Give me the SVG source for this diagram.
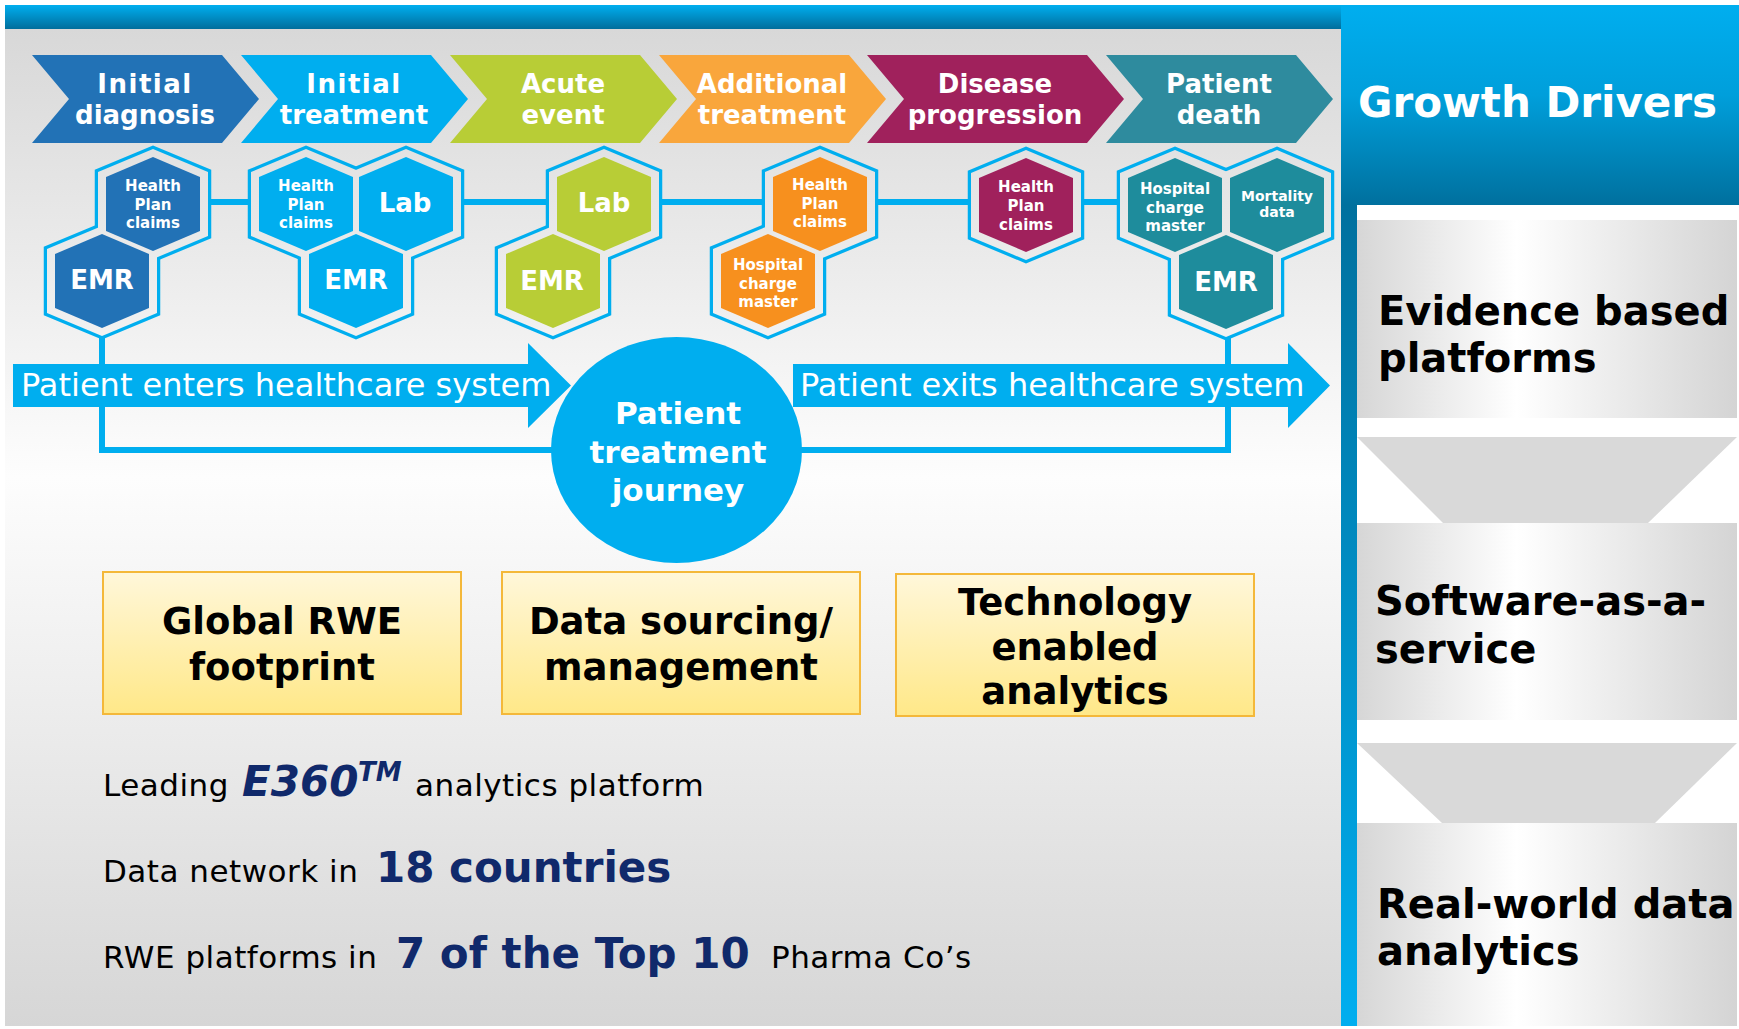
<svg xmlns="http://www.w3.org/2000/svg" width="1739" height="1029" viewBox="0 0 1739 1029">
<defs>
<linearGradient id="bg" gradientUnits="userSpaceOnUse" x1="0" y1="29" x2="0" y2="1026">
<stop offset="0" stop-color="#d8d8d8"/><stop offset="0.45" stop-color="#fdfdfd"/><stop offset="1" stop-color="#d6d6d6"/>
</linearGradient>
<linearGradient id="topbar" x1="0" y1="0" x2="0" y2="1">
<stop offset="0" stop-color="#00aeef"/><stop offset="1" stop-color="#006e9c"/>
</linearGradient>
<linearGradient id="header" x1="0" y1="0" x2="0" y2="1">
<stop offset="0" stop-color="#00aeef"/><stop offset="0.45" stop-color="#009fdb"/><stop offset="1" stop-color="#00709e"/>
</linearGradient>
<linearGradient id="stripe" x1="0" y1="0" x2="0" y2="1">
<stop offset="0" stop-color="#00709e"/><stop offset="1" stop-color="#00aeef"/>
</linearGradient>
<linearGradient id="grey" x1="0" y1="0" x2="1" y2="0">
<stop offset="0" stop-color="#d6d6d6"/><stop offset="0.42" stop-color="#ffffff"/><stop offset="1" stop-color="#d4d4d4"/>
</linearGradient>
<linearGradient id="yellow" x1="0" y1="0" x2="0" y2="1">
<stop offset="0" stop-color="#fff7da"/><stop offset="1" stop-color="#ffe888"/>
</linearGradient>
</defs>
<style>
text{font-family:"DejaVu Sans",Verdana,"Liberation Sans",sans-serif}
.chev text{fill:#fff;font-weight:bold;font-size:26px;text-anchor:middle}
.ring{fill:none;stroke:#00aeef;stroke-width:6.5}
.gap{fill:url(#bg)}
.hl{fill:#fff;font-weight:bold;text-anchor:middle}
.sm{font-size:15px}
.big{font-size:26px}
.conn{fill:none;stroke:#00aeef;stroke-width:6}
.arrow{fill:#00aeef}
.arrow text{fill:#fff;font-size:32px}
.ybox rect{fill:url(#yellow);stroke:#f4b83a;stroke-width:2}
.ybox text{fill:#000;font-weight:bold;font-size:37px;text-anchor:middle}
.gbox{fill:url(#grey)}
.gtxt{fill:#000;font-weight:bold;font-size:40px}
.trap{fill:#d9d9d9}
.stat{font-size:31px;fill:#000;letter-spacing:0.5px}
.navy{fill:#10296b;font-weight:bold;font-size:42px}
</style>

<rect x="0" y="0" width="1739" height="1029" fill="#ffffff"/>
<rect x="5" y="29" width="1336" height="997" fill="url(#bg)"/>
<rect x="5" y="5" width="1336" height="24" fill="url(#topbar)"/>

<g id="growth-drivers">
<rect x="1341" y="5" width="398" height="200" fill="url(#header)"/>
<rect x="1341" y="205" width="16" height="821" fill="url(#stripe)"/>
<text x="1358" y="117" fill="#fff" font-weight="bold" font-size="42">Growth Drivers</text>
</g>
<g id="driver-evidence">
<rect class="gbox" x="1357" y="220" width="380" height="198"/>
<text class="gtxt" x="1378" y="325" font-size="39">Evidence based</text>
<text class="gtxt" x="1378" y="372" font-size="39">platforms</text>
</g>
<polygon class="trap" points="1357,437 1737,437 1648,523 1443,523"/>
<g id="driver-saas">
<rect class="gbox" x="1357" y="523" width="380" height="197"/>
<text class="gtxt" x="1375" y="615">Software-as-a-</text>
<text class="gtxt" x="1375" y="663">service</text>
</g>
<polygon class="trap" points="1357,743 1737,743 1655,823 1442,823"/>
<g id="driver-rwd">
<rect class="gbox" x="1357" y="823" width="380" height="203"/>
<text class="gtxt" x="1377" y="918">Real-world data</text>
<text class="gtxt" x="1377" y="965">analytics</text>
</g>

<g id="stages" class="chev">
<g id="stage-initial-diagnosis"><polygon fill="#2272b6" points="32,55 222,55 259,99 222,143 32,143 69,99"/><text x="145" y="93" letter-spacing="1.5">Initial</text><text x="145" y="124">diagnosis</text></g>
<g id="stage-initial-treatment"><polygon fill="#00aeef" points="241,55 431,55 468,99 431,143 241,143 278,99"/><text x="354" y="93" letter-spacing="1.5">Initial</text><text x="354" y="124">treatment</text></g>
<g id="stage-acute-event"><polygon fill="#b8cd36" points="450,55 640,55 677,99 640,143 450,143 487,99"/><text x="563" y="93">Acute</text><text x="563" y="124">event</text></g>
<g id="stage-additional-treatment"><polygon fill="#f9a63c" points="659,55 849,55 886,99 849,143 659,143 696,99"/><text x="772" y="93">Additional</text><text x="772" y="124">treatment</text></g>
<g id="stage-disease-progression"><polygon fill="#a0215c" points="867,55 1087,55 1124,99 1087,143 867,143 904,99"/><text x="995" y="93">Disease</text><text x="995" y="124">progression</text></g>
<g id="stage-patient-death"><polygon fill="#2e8b9e" points="1106,55 1296,55 1333,99 1296,143 1106,143 1143,99"/><text x="1219" y="93">Patient</text><text x="1219" y="124">death</text></g>
</g>

<g id="connectors">
<line class="conn" x1="200" y1="202" x2="1130" y2="202"/>
<path class="conn" d="M102,334 V450 H1228 V335"/>
</g>

<g id="cluster-1">
<polygon class="ring" points="153,149 208,172 208,236 153,259 98,236 98,172"/>
<polygon class="ring" points="102,226 157,249 157,313 102,336 47,313 47,249"/>
<polygon class="gap" points="153,149 208,172 208,236 153,259 98,236 98,172"/>
<polygon class="gap" points="102,226 157,249 157,313 102,336 47,313 47,249"/>
<polygon fill="#2272b6" points="153,157 200,177 200,231 153,251 106,231 106,177"/>
<polygon fill="#2272b6" points="102,234 149,254 149,308 102,328 55,308 55,254"/>
<text class="hl sm" x="153"><tspan x="153" y="191">Health</tspan><tspan x="153" y="209.5">Plan</tspan><tspan x="153" y="228">claims</tspan></text>
<text class="hl big" x="102" y="289">EMR</text>
</g>

<g id="cluster-2">
<polygon class="ring" points="306,149 361,172 361,236 306,259 251,236 251,172"/>
<polygon class="ring" points="406,149 461,172 461,236 406,259 351,236 351,172"/>
<polygon class="ring" points="356,226 411,249 411,313 356,336 301,313 301,249"/>
<polygon class="gap" points="306,149 361,172 361,236 306,259 251,236 251,172"/>
<polygon class="gap" points="406,149 461,172 461,236 406,259 351,236 351,172"/>
<polygon class="gap" points="356,226 411,249 411,313 356,336 301,313 301,249"/>
<polygon fill="#00aeef" points="306,157 353,177 353,231 306,251 259,231 259,177"/>
<polygon fill="#00aeef" points="406,157 453,177 453,231 406,251 359,231 359,177"/>
<polygon fill="#00aeef" points="356,234 403,254 403,308 356,328 309,308 309,254"/>
<text class="hl sm" x="306"><tspan x="306" y="191">Health</tspan><tspan x="306" y="209.5">Plan</tspan><tspan x="306" y="228">claims</tspan></text>
<text class="hl big" x="405" y="212">Lab</text>
<text class="hl big" x="356" y="289">EMR</text>
</g>

<g id="cluster-3">
<polygon class="ring" points="604,149 659,172 659,236 604,259 549,236 549,172"/>
<polygon class="ring" points="553,226 608,249 608,313 553,336 498,313 498,249"/>
<polygon class="gap" points="604,149 659,172 659,236 604,259 549,236 549,172"/>
<polygon class="gap" points="553,226 608,249 608,313 553,336 498,313 498,249"/>
<polygon fill="#b8cd36" points="604,157 651,177 651,231 604,251 557,231 557,177"/>
<polygon fill="#b8cd36" points="553,234 600,254 600,308 553,328 506,308 506,254"/>
<text class="hl big" x="604" y="212">Lab</text>
<text class="hl big" x="552" y="290">EMR</text>
</g>

<g id="cluster-4">
<polygon class="ring" points="820,149 875,172 875,236 820,259 765,236 765,172"/>
<polygon class="ring" points="768,226 823,249 823,313 768,336 713,313 713,249"/>
<polygon class="gap" points="820,149 875,172 875,236 820,259 765,236 765,172"/>
<polygon class="gap" points="768,226 823,249 823,313 768,336 713,313 713,249"/>
<polygon fill="#f7901e" points="820,157 867,177 867,231 820,251 773,231 773,177"/>
<polygon fill="#f7901e" points="768,234 815,254 815,308 768,328 721,308 721,254"/>
<text class="hl sm" x="820"><tspan x="820" y="190">Health</tspan><tspan x="820" y="208.5">Plan</tspan><tspan x="820" y="227">claims</tspan></text>
<text class="hl sm" x="768"><tspan x="768" y="270">Hospital</tspan><tspan x="768" y="288.5">charge</tspan><tspan x="768" y="307">master</tspan></text>
</g>

<g id="cluster-5">
<polygon class="ring" points="1026,150 1081,173 1081,237 1026,260 971,237 971,173"/>
<polygon class="gap" points="1026,150 1081,173 1081,237 1026,260 971,237 971,173"/>
<polygon fill="#a0215c" points="1026,158 1073,178 1073,232 1026,252 979,232 979,178"/>
<text class="hl sm" x="1026"><tspan x="1026" y="192">Health</tspan><tspan x="1026" y="211">Plan</tspan><tspan x="1026" y="230">claims</tspan></text>
</g>

<g id="cluster-6">
<polygon class="ring" points="1175,150 1230,173 1230,237 1175,260 1120,237 1120,173"/>
<polygon class="ring" points="1277,150 1331,173 1331,237 1277,260 1222,237 1222,173"/>
<polygon class="ring" points="1226,227 1281,250 1281,314 1226,337 1171,314 1171,250"/>
<polygon class="gap" points="1175,150 1230,173 1230,237 1175,260 1120,237 1120,173"/>
<polygon class="gap" points="1277,150 1331,173 1331,237 1277,260 1222,237 1222,173"/>
<polygon class="gap" points="1226,227 1281,250 1281,314 1226,337 1171,314 1171,250"/>
<polygon fill="#1e8c9c" points="1175,158 1222,178 1222,232 1175,252 1128,232 1128,178"/>
<polygon fill="#1e8c9c" points="1277,158 1324,178 1324,232 1277,252 1230,232 1230,178"/>
<polygon fill="#1e8c9c" points="1226,235 1273,255 1273,309 1226,329 1179,309 1179,255"/>
<text class="hl sm" x="1175"><tspan x="1175" y="194">Hospital</tspan><tspan x="1175" y="212.5">charge</tspan><tspan x="1175" y="231">master</tspan></text>
<text class="hl" font-size="14" x="1277"><tspan x="1277" y="201">Mortality</tspan><tspan x="1277" y="217">data</tspan></text>
<text class="hl big" x="1226" y="291">EMR</text>
</g>

<g id="arrow-enters" class="arrow">
<polygon points="13,364 528,364 528,343 571,385.5 528,428 528,407 13,407"/>
<text x="21" y="396">Patient enters healthcare system</text>
</g>
<g id="arrow-exits" class="arrow">
<polygon points="793,364 1288,364 1288,343 1330,385.5 1288,428 1288,407 793,407"/>
<text x="800" y="396">Patient exits healthcare system</text>
</g>

<g id="journey">
<ellipse cx="676.5" cy="450" rx="125.5" ry="113" fill="#00aeef"/>
<text fill="#fff" font-weight="bold" font-size="31" text-anchor="middle"><tspan x="678" y="424">Patient</tspan><tspan x="678" y="463">treatment</tspan><tspan x="678" y="501">journey</tspan></text>
</g>

<g id="box-global" class="ybox">
<rect x="103" y="572" width="358" height="142"/>
<text x="282" y="634">Global RWE</text><text x="282" y="680">footprint</text>
</g>
<g id="box-data" class="ybox">
<rect x="502" y="572" width="358" height="142"/>
<text x="681" y="634">Data sourcing/</text><text x="681" y="680">management</text>
</g>
<g id="box-tech" class="ybox">
<rect x="896" y="574" width="358" height="142"/>
<text x="1075" y="615">Technology</text><text x="1075" y="660">enabled</text><text x="1075" y="704">analytics</text>
</g>

<g id="stats">
<text class="stat" x="103" y="796">Leading</text>
<text class="navy" x="242" y="796" font-style="italic">E360</text>
<text x="358" y="781" fill="#10296b" font-weight="bold" font-style="italic" font-size="26">TM</text>
<text class="stat" x="415" y="796">analytics platform</text>
<text class="stat" x="103" y="882">Data network in</text>
<text class="navy" x="376" y="882">18 countries</text>
<text class="stat" x="103" y="968">RWE platforms in</text>
<text class="navy" x="396" y="968">7 of the Top 10</text>
<text class="stat" x="771" y="968">Pharma Co’s</text>
</g>
</svg>
